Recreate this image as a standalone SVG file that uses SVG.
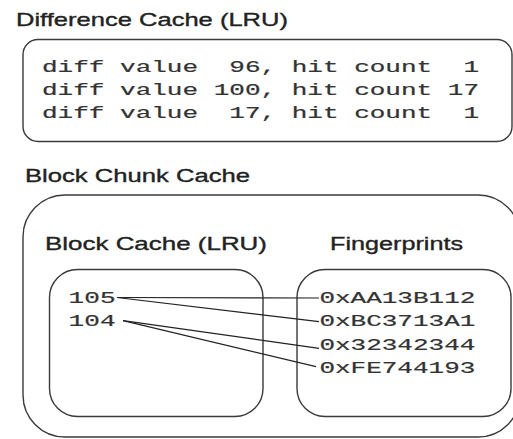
<svg xmlns="http://www.w3.org/2000/svg" width="513" height="439" viewBox="0 0 513 439">
<style>
.box{fill:none;stroke:#3a3a3a;stroke-width:1.4}
.title{font-family:"Liberation Sans",Arial,sans-serif;font-size:18.5px;fill:#222;stroke:#222;stroke-width:0.35}
.mono{font-family:"Liberation Mono","Courier New",monospace;font-size:16.5px;fill:#333;stroke:#333;stroke-width:0.2;white-space:pre}
.conn{stroke:#222;stroke-width:1.2;fill:none}
</style>
<rect width="513" height="439" fill="#fff"/>
<g id="difference-cache">
<text class="title" x="16" y="26" textLength="272" lengthAdjust="spacingAndGlyphs">Difference Cache (LRU)</text>
<rect class="box" x="23" y="39.5" width="489" height="102" rx="15"/>
<text class="mono" x="42" y="71.7" textLength="437" lengthAdjust="spacingAndGlyphs" xml:space="preserve">diff value  96, hit count  1</text>
<text class="mono" x="42" y="95" textLength="437" lengthAdjust="spacingAndGlyphs" xml:space="preserve">diff value 100, hit count 17</text>
<text class="mono" x="42" y="118.3" textLength="437" lengthAdjust="spacingAndGlyphs" xml:space="preserve">diff value  17, hit count  1</text>
</g>
<g id="block-chunk-cache">
<text class="title" x="25" y="181.7" textLength="225" lengthAdjust="spacingAndGlyphs">Block Chunk Cache</text>
<rect class="box" x="23" y="195" width="497" height="242" rx="42"/>
</g>
<g id="block-cache">
<text class="title" x="45" y="250" textLength="222" lengthAdjust="spacingAndGlyphs">Block Cache (LRU)</text>
<rect class="box" x="49.5" y="269.5" width="213.5" height="147" rx="28"/>
<text class="mono" x="68.6" y="303" textLength="47" lengthAdjust="spacingAndGlyphs">105</text>
<text class="mono" x="68.6" y="326.3" textLength="47" lengthAdjust="spacingAndGlyphs">104</text>
</g>
<g id="fingerprints">
<text class="title" x="330" y="250" textLength="133" lengthAdjust="spacingAndGlyphs">Fingerprints</text>
<rect class="box" x="297" y="269.5" width="214" height="147" rx="28"/>
<text class="mono" x="319.4" y="303" textLength="156" lengthAdjust="spacingAndGlyphs">0xAA13B112</text>
<text class="mono" x="319.4" y="326.3" textLength="156" lengthAdjust="spacingAndGlyphs">0xBC3713A1</text>
<text class="mono" x="319.4" y="349.6" textLength="156" lengthAdjust="spacingAndGlyphs">0x32342344</text>
<text class="mono" x="319.4" y="372.9" textLength="156" lengthAdjust="spacingAndGlyphs">0xFE744193</text>
</g>
<g id="connectors">
<path class="conn" d="M117,297.5 L319,298"/>
<path class="conn" d="M117,297.5 L319,321.7"/>
<path class="conn" d="M123,320.7 L319,348.3"/>
<path class="conn" d="M123,320.7 L316,366.7"/>
</g>
</svg>
